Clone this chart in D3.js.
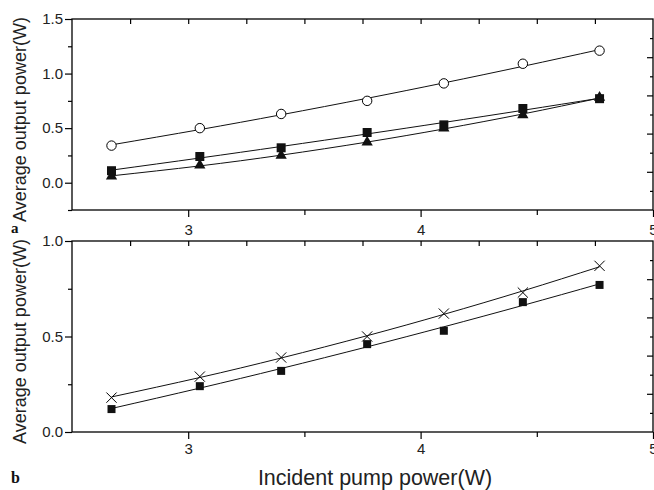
<!DOCTYPE html>
<html>
<head>
<meta charset="utf-8">
<script src="https://cdn.jsdelivr.net/npm/d3@7"></script>
<style>
    body { margin: 0; background: #fff; }
    svg { display: block; font-family: "Liberation Sans", Arial, sans-serif; }
    .axis path { display: none; }
    .axis line { stroke: #000; stroke-width: 1.2; }
    .axis text { font-size: 15px; fill: #222; font-family: "Liberation Sans", Arial, sans-serif; }
    .frame { fill: none; stroke: #000; stroke-width: 1.3; }
    .fit { fill: none; stroke: #111; stroke-width: 1; }
</style>
</head>
<body>
<svg id="canvas" width="654" height="490"></svg>
<script>
// incident pump power (W), same for every series
const pumpPower = [2.67, 3.05, 3.40, 3.77, 4.10, 4.44, 4.77];

// panel a
const aCircles = [0.34, 0.50, 0.63, 0.75, 0.91, 1.09, 1.21];
const aSquares = [0.11, 0.24, 0.32, 0.46, 0.53, 0.68, 0.77];
const aTriangles = [0.06, 0.16, 0.25, 0.37, 0.50, 0.62, 0.78];

// panel b
const bCrosses = [0.18, 0.29, 0.39, 0.50, 0.62, 0.73, 0.87];
const bSquares = [0.12, 0.24, 0.32, 0.46, 0.53, 0.68, 0.77];

const xTicks = [3, 4, 5];
const yLabel = "Average output power(W)";
const xLabel = "Incident pump power(W)";

const canvas = d3.select("svg");
const left = 72, right = 653;

const x = d3.scaleLinear().domain([2.5, 5]).range([left, right]);

const markers = {
    circle: {type: d3.symbolCircle, size: 70, fill: "#fff", stroke: "#000", width: 1},
    square: {type: d3.symbolSquare, size: 81, fill: "#111", stroke: "none", width: 0},
    smallSquare: {type: d3.symbolSquare, size: 64, fill: "#111", stroke: "none", width: 0},
    triangle: {type: d3.symbolTriangle, size: 55, fill: "#111", stroke: "none", width: 0},
    cross: {type: d3.symbolTimes || d3.symbolX, size: 70, fill: "none", stroke: "#000", width: 1}
};

// least squares quadratic through the measured points, like the fit curves in the figure
function quadFit(xs, ys) {
    let s = [0, 0, 0, 0, 0], t = [0, 0, 0];
    xs.forEach((xi, i) => {
        let p = 1;
        for (let k = 0; k < 5; k++) { s[k] += p; if (k < 3) t[k] += p * ys[i]; p *= xi; }
    });
    const m = [[s[0], s[1], s[2], t[0]], [s[1], s[2], s[3], t[1]], [s[2], s[3], s[4], t[2]]];
    for (let c = 0; c < 3; c++) {
        for (let r = c + 1; r < 3; r++) {
            const f = m[r][c] / m[c][c];
            for (let k = c; k < 4; k++) m[r][k] -= f * m[c][k];
        }
    }
    const b = [0, 0, 0];
    for (let r = 2; r >= 0; r--) {
        let v = m[r][3];
        for (let k = r + 1; k < 3; k++) v -= m[r][k] * b[k];
        b[r] = v / m[r][r];
    }
    return (v) => b[0] + b[1] * v + b[2] * v * v;
}

function drawPanel(p) {
    const y = d3.scaleLinear().domain(p.yDomain).range([p.bottom, p.top]);
    const g = canvas.append("g");

    // left axis, major + minor
    g.append("g").attr("class", "axis")
        .attr("transform", `translate(${left},0)`)
        .call(d3.axisLeft(y).tickValues(p.yMajor).tickSize(7).tickPadding(2).tickFormat(d3.format(".1f")));
    g.append("g").attr("class", "axis")
        .attr("transform", `translate(${left},0)`)
        .call(d3.axisLeft(y).tickValues(p.yMinor).tickSize(4).tickFormat(""));

    // bottom axis
    g.append("g").attr("class", "axis")
        .attr("transform", `translate(0,${p.bottom})`)
        .call(d3.axisBottom(x).tickValues(xTicks).tickSize(7).tickPadding(p.xPad).tickFormat(d3.format("d")));
    g.append("g").attr("class", "axis")
        .attr("transform", `translate(0,${p.bottom})`)
        .call(d3.axisBottom(x).tickValues([3.5, 4.5]).tickSize(5).tickFormat(""));

    // top axis, inward ticks
    g.append("g").attr("class", "axis")
        .attr("transform", `translate(0,${p.top})`)
        .call(d3.axisTop(x).tickValues(d3.range(2.75, 5, 0.25)).tickSize(-5).tickFormat(""));

    // right axis, ten inward ticks on its own scale
    const r = d3.scaleLinear().domain([0, 10]).range([p.bottom, p.top]);
    g.append("g").attr("class", "axis")
        .attr("transform", `translate(${right},0)`)
        .call(d3.axisRight(r).tickValues([1, 3, 5, 7, 9]).tickSize(-3).tickFormat(""));
    g.append("g").attr("class", "axis")
        .attr("transform", `translate(${right},0)`)
        .call(d3.axisRight(r).tickValues([2, 4, 6, 8]).tickSize(-6).tickFormat(""));

    g.append("rect").attr("class", "frame")
        .attr("x", left).attr("y", p.top)
        .attr("width", right - left).attr("height", p.bottom - p.top);

    const line = d3.line()
        .x((d) => x(d.x))
        .y((d) => y(d.y))
        .curve(d3.curveNatural);

    p.series.forEach((s) => {
        const fit = quadFit(pumpPower, s.values);
        const data = pumpPower.map((v) => ({x: v, y: fit(v)}));
        g.append("path").attr("class", "fit").attr("d", line(data));
    });

    p.series.forEach((s) => {
        const m = markers[s.marker];
        const data = pumpPower.map((v, i) => ({x: v, y: s.values[i]}));
        g.selectAll(null).data(data).enter().append("path")
            .attr("transform", (d) => `translate(${x(d.x)},${y(d.y)})`)
            .attr("d", d3.symbol().type(m.type).size(m.size))
            .attr("fill", m.fill)
            .attr("stroke", m.stroke)
            .attr("stroke-width", m.width);
    });

    g.append("text")
        .attr("transform", `translate(26,${(p.top + p.bottom) / 2 + 5}) rotate(-90)`)
        .attr("text-anchor", "middle")
        .attr("font-size", 18)
        .attr("fill", "#222")
        .text(yLabel);

    g.append("text")
        .attr("x", 11).attr("y", p.letterY)
        .attr("font-family", "'Liberation Serif', 'Times New Roman', serif")
        .attr("font-weight", "bold")
        .attr("font-size", p.letterSize)
        .attr("fill", "#111")
        .text(p.letter);
}

drawPanel({
    top: 19, bottom: 210,
    yDomain: [-0.25, 1.5],
    yMajor: [0, 0.5, 1.0, 1.5],
    yMinor: [-0.25, 0.25, 0.75, 1.25],
    xPad: 7,
    letter: "a", letterY: 233, letterSize: 15,
    series: [
        {values: aCircles, marker: "circle"},
        {values: aSquares, marker: "square"},
        {values: aTriangles, marker: "triangle"}
    ]
});

drawPanel({
    top: 241, bottom: 432,
    yDomain: [0, 1.0],
    yMajor: [0, 0.5, 1.0],
    yMinor: [0.25, 0.75],
    xPad: 4,
    letter: "b", letterY: 483, letterSize: 16,
    series: [
        {values: bCrosses, marker: "cross"},
        {values: bSquares, marker: "smallSquare"}
    ]
});

canvas.append("text")
    .attr("x", 375).attr("y", 485)
    .attr("text-anchor", "middle")
    .attr("font-size", 21.5)
    .attr("fill", "#222")
    .text(xLabel);
</script>
</body>
</html>
